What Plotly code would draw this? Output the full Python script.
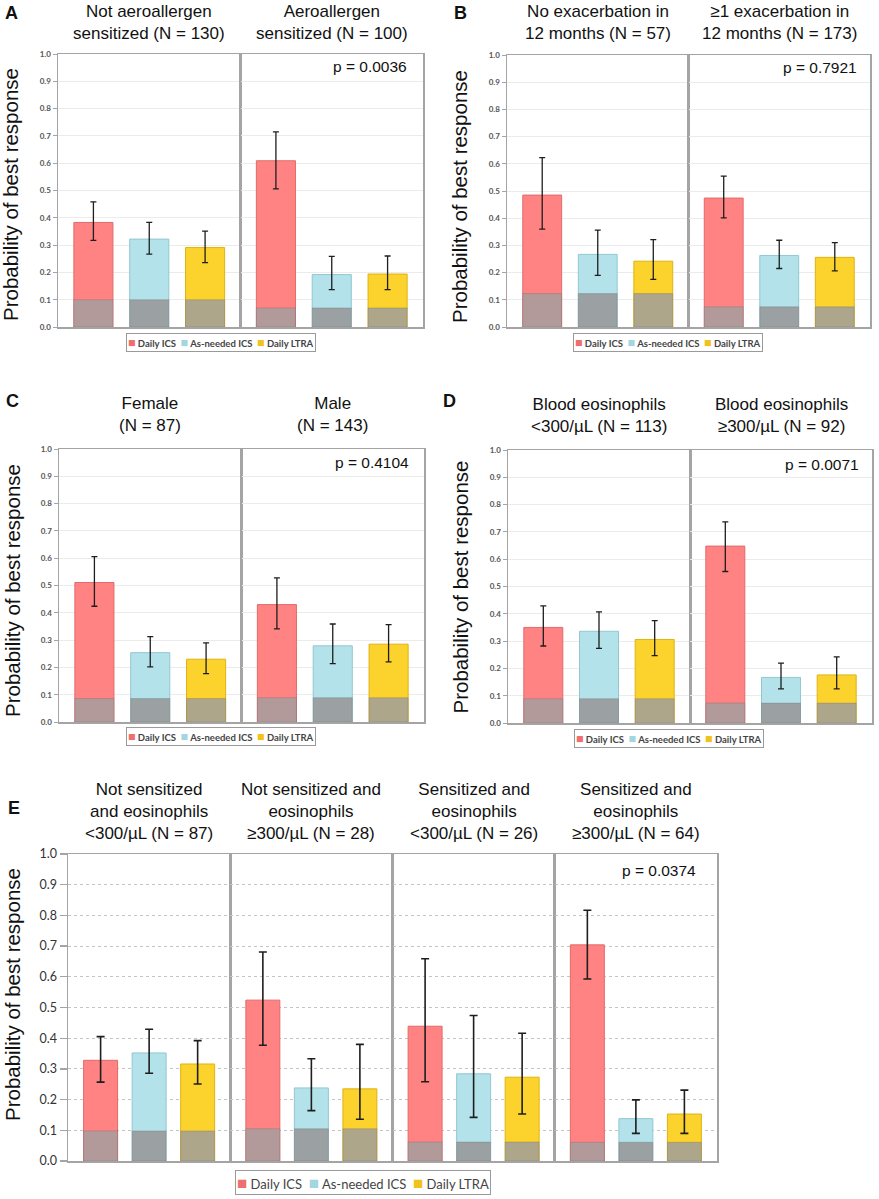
import plotly.graph_objects as go

W, H = 879, 1199

# ---------------- data ----------------
treatments = ["Daily ICS", "As-needed ICS", "Daily LTRA"]

A_groups = ["Not aeroallergen<br>sensitized (N = 130)", "Aeroallergen<br>sensitized (N = 100)"]
A_prob = [[0.383, 0.322, 0.291], [0.609, 0.192, 0.194]]
A_lo = [[0.317, 0.267, 0.236], [0.506, 0.137, 0.137]]
A_hi = [[0.458, 0.383, 0.351], [0.715, 0.259, 0.260]]
A_base = [0.100, 0.070]
A_p = "p = 0.0036"

B_groups = ["No exacerbation in<br>12 months (N = 57)", "≥1 exacerbation in<br>12 months (N = 173)"]
B_prob = [[0.485, 0.267, 0.242], [0.474, 0.263, 0.256]]
B_lo = [[0.360, 0.190, 0.175], [0.401, 0.215, 0.206]]
B_hi = [[0.623, 0.356, 0.321], [0.555, 0.319, 0.310]]
B_base = [0.123, 0.074]
B_p = "p = 0.7921"

C_groups = ["Female<br>(N = 87)", "Male<br>(N = 143)"]
C_prob = [[0.511, 0.254, 0.230], [0.430, 0.279, 0.285]]
C_lo = [[0.424, 0.202, 0.177], [0.341, 0.214, 0.220]]
C_hi = [[0.606, 0.313, 0.290], [0.528, 0.359, 0.357]]
C_base = [0.086, 0.089]
C_p = "p = 0.4104"

D_groups = ["Blood eosinophils<br>&lt;300/µL (N = 113)", "Blood eosinophils<br>≥300/µL (N = 92)"]
D_prob = [[0.350, 0.336, 0.306], [0.648, 0.167, 0.176]]
D_lo = [[0.282, 0.273, 0.247], [0.555, 0.125, 0.125]]
D_hi = [[0.429, 0.407, 0.375], [0.737, 0.219, 0.242]]
D_base = [0.089, 0.073]
D_p = "p = 0.0071"

E_groups = ["Not sensitized<br>and eosinophils<br>&lt;300/µL (N = 87)",
            "Not sensitized and<br>eosinophils<br>≥300/µL (N = 28)",
            "Sensitized and<br>eosinophils<br>&lt;300/µL (N = 26)",
            "Sensitized and<br>eosinophils<br>≥300/µL (N = 64)"]
E_prob = [[0.328, 0.352, 0.316], [0.524, 0.238, 0.235], [0.439, 0.284, 0.273], [0.704, 0.138, 0.153]]
E_lo = [[0.257, 0.286, 0.251], [0.377, 0.164, 0.136], [0.258, 0.142, 0.153], [0.593, 0.090, 0.090]]
E_hi = [[0.405, 0.429, 0.392], [0.681, 0.333, 0.380], [0.659, 0.474, 0.416], [0.817, 0.199, 0.231]]
E_base = [0.098, 0.105, 0.062, 0.061]
E_p = "p = 0.0374"

y_title = "Probability of best response"

# ---------------- styles ----------------
bar_colors = ["#ff8383", "#b3e2ea", "#fcd22c"]
edge_colors = ["#e26a6a", "#92c7d1", "#dfb312"]
base_colors = ["#b39a9a", "#9ba1a3", "#aea68b"]
legend_sq = ["#f06e6e", "#a3d6e0", "#f0c21a"]

TITLE_FONT = "Liberation Sans, Arial, sans-serif"
TICK_FONT = "Lato, Open Sans, sans-serif"

panels = [
    dict(letter="A", groups=A_groups, prob=A_prob, lo=A_lo, hi=A_hi, base=A_base, p=A_p,
         box=(58, 423, 54, 327), title_y=23, legend=(220.5, 342.5), letter_xy=(11, 12.5),
         ytitle=(11, 195), pval=(409, 67), big=False),
    dict(letter="B", groups=B_groups, prob=B_prob, lo=B_lo, hi=B_hi, base=B_base, p=B_p,
         box=(507, 870, 55, 327), title_y=23, legend=(668, 342.5), letter_xy=(460, 12.5),
         ytitle=(459.5, 196.5), pval=(859, 68), big=False),
    dict(letter="C", groups=C_groups, prob=C_prob, lo=C_lo, hi=C_hi, base=C_base, p=C_p,
         box=(59, 424, 449, 722), title_y=414.5, legend=(221, 736.5), letter_xy=(12, 401),
         ytitle=(12, 591), pval=(411, 462), big=False),
    dict(letter="D", groups=D_groups, prob=D_prob, lo=D_lo, hi=D_hi, base=D_base, p=D_p,
         box=(508, 872, 450, 723), title_y=415, legend=(669, 738.5), letter_xy=(449.5, 401),
         ytitle=(460, 587.5), pval=(861, 464), big=False),
    dict(letter="E", groups=E_groups, prob=E_prob, lo=E_lo, hi=E_hi, base=E_base, p=E_p,
         box=(68, 717, 854, 1161), title_y=811.5, legend=(363, 1182.5), letter_xy=(13.5, 807.5),
         ytitle=(12, 995), pval=(698, 870), big=True),
]


def px(x):
    return x / W


def py(y):
    return 1 - y / H


fig = go.Figure()
layout = {}
annotations = []
n = 0
for P in panels:
    left, right, top, bottom = P["box"]
    ng = len(P["groups"])
    gw = (right - left) / ng
    pad = 0.672 if P["big"] else 0.634
    for g in range(ng):
        n += 1
        xr = "x" if n == 1 else f"x{n}"
        yr = "y" if n == 1 else f"y{n}"
        xa = "xaxis" if n == 1 else f"xaxis{n}"
        ya = "yaxis" if n == 1 else f"yaxis{n}"
        x0 = left + g * gw
        x1 = left + (g + 1) * gw
        layout[xa] = dict(domain=[px(x0), px(x1)], anchor=yr, type="category",
                          range=[-pad, 2 + pad], showline=True, mirror=True,
                          linecolor="#a4a4a4", linewidth=1.5, ticks="",
                          showticklabels=False, showgrid=False, zeroline=False)
        ydict = dict(domain=[py(bottom), py(top)], anchor=xr, range=[0, 1], dtick=0.1,
                     tickformat=".1f", showline=True, mirror=True, linecolor="#a4a4a4",
                     linewidth=1.5, zeroline=False, showgrid=True,
                     showticklabels=(g == 0), ticks=("outside" if g == 0 else ""))
        if P["big"]:
            ydict.update(gridcolor="#c4c4c4", griddash="dot", gridwidth=1, ticklen=7,
                         tickcolor="#a4a4a4", tickwidth=1.2,
                         tickfont=dict(family=TICK_FONT, size=12.5, color="#333333"))
        else:
            ydict.update(gridcolor="#ebebeb", gridwidth=1, ticklen=4,
                         tickcolor="#a4a4a4", tickwidth=1,
                         tickfont=dict(family=TICK_FONT, size=8, color="#555555", weight="bold"))
        layout[ya] = ydict

        vals = P["prob"][g]
        lo = P["lo"][g]
        hi = P["hi"][g]
        fig.add_trace(go.Bar(
            x=treatments, y=vals, xaxis=xr, yaxis=yr,
            marker=dict(color=bar_colors, line=dict(color=edge_colors, width=1)),
            error_y=dict(type="data", symmetric=False,
                         array=[h - v for h, v in zip(hi, vals)],
                         arrayminus=[v - l for v, l in zip(vals, lo)],
                         color="#1e1e1e", thickness=1.6 if P["big"] else 1.3,
                         width=4 if P["big"] else 3),
            showlegend=False, hoverinfo="x+y"))
        fig.add_trace(go.Bar(
            x=treatments, y=[P["base"][g]] * 3, xaxis=xr, yaxis=yr,
            marker=dict(color=base_colors, line=dict(color="rgba(90,90,90,0.25)", width=1)),
            showlegend=False, hoverinfo="skip"))

        # group title
        annotations.append(dict(
            x=px((x0 + x1) / 2), y=py(P["title_y"]), xref="paper", yref="paper",
            text=P["groups"][g], showarrow=False, xanchor="center", yanchor="middle",
            font=dict(family=TITLE_FONT, size=17, color="#111111")))

    # p-value
    annotations.append(dict(
        x=px(P["pval"][0]), y=py(P["pval"][1]), xref="paper", yref="paper",
        text=P["p"], showarrow=False, xanchor="right", yanchor="middle",
        font=dict(family=TITLE_FONT, size=15.5, color="#111111")))
    # panel letter
    annotations.append(dict(
        x=px(P["letter_xy"][0]), y=py(P["letter_xy"][1]), xref="paper", yref="paper",
        text=f"<b>{P['letter']}</b>", showarrow=False, xanchor="center", yanchor="middle",
        font=dict(family=TITLE_FONT, size=18, color="#111111")))
    # y title
    annotations.append(dict(
        x=px(P["ytitle"][0]), y=py(P["ytitle"][1]), xref="paper", yref="paper",
        text=y_title, showarrow=False, textangle=-90, xanchor="center", yanchor="middle",
        font=dict(family=TITLE_FONT, size=20.5, color="#111111")))
    # legend box
    if P["big"]:
        lfs, sqs, wt = 13, 17, "normal"
    else:
        lfs, sqs, wt = 9.5, 12.5, "bold"
    parts = []
    for c, t in zip(legend_sq, treatments):
        parts.append(f'<span style="color:{c};font-size:{sqs}px">■</span>\u00a0{t}')
    annotations.append(dict(
        x=px(P["legend"][0]), y=py(P["legend"][1]), xref="paper", yref="paper",
        text="\u00a0\u00a0".join(parts), showarrow=False, xanchor="center", yanchor="middle",
        bordercolor="#9a9a9a", borderwidth=1, borderpad=1, bgcolor="white",
        font=dict(family=TICK_FONT, size=lfs, color="#444444", weight=wt)))

fig.update_layout(
    width=W, height=H, autosize=False,
    margin=dict(l=0, r=0, t=0, b=0, pad=0, autoexpand=False),
    paper_bgcolor="white", plot_bgcolor="white",
    barmode="overlay", bargap=0.3, showlegend=False, hovermode=False,
    annotations=annotations,
    **layout)

fig.write_html("out.html", config={"displayModeBar": False, "staticPlot": True},
               post_script="document.body.style.margin='0';document.body.style.overflow='hidden';")
